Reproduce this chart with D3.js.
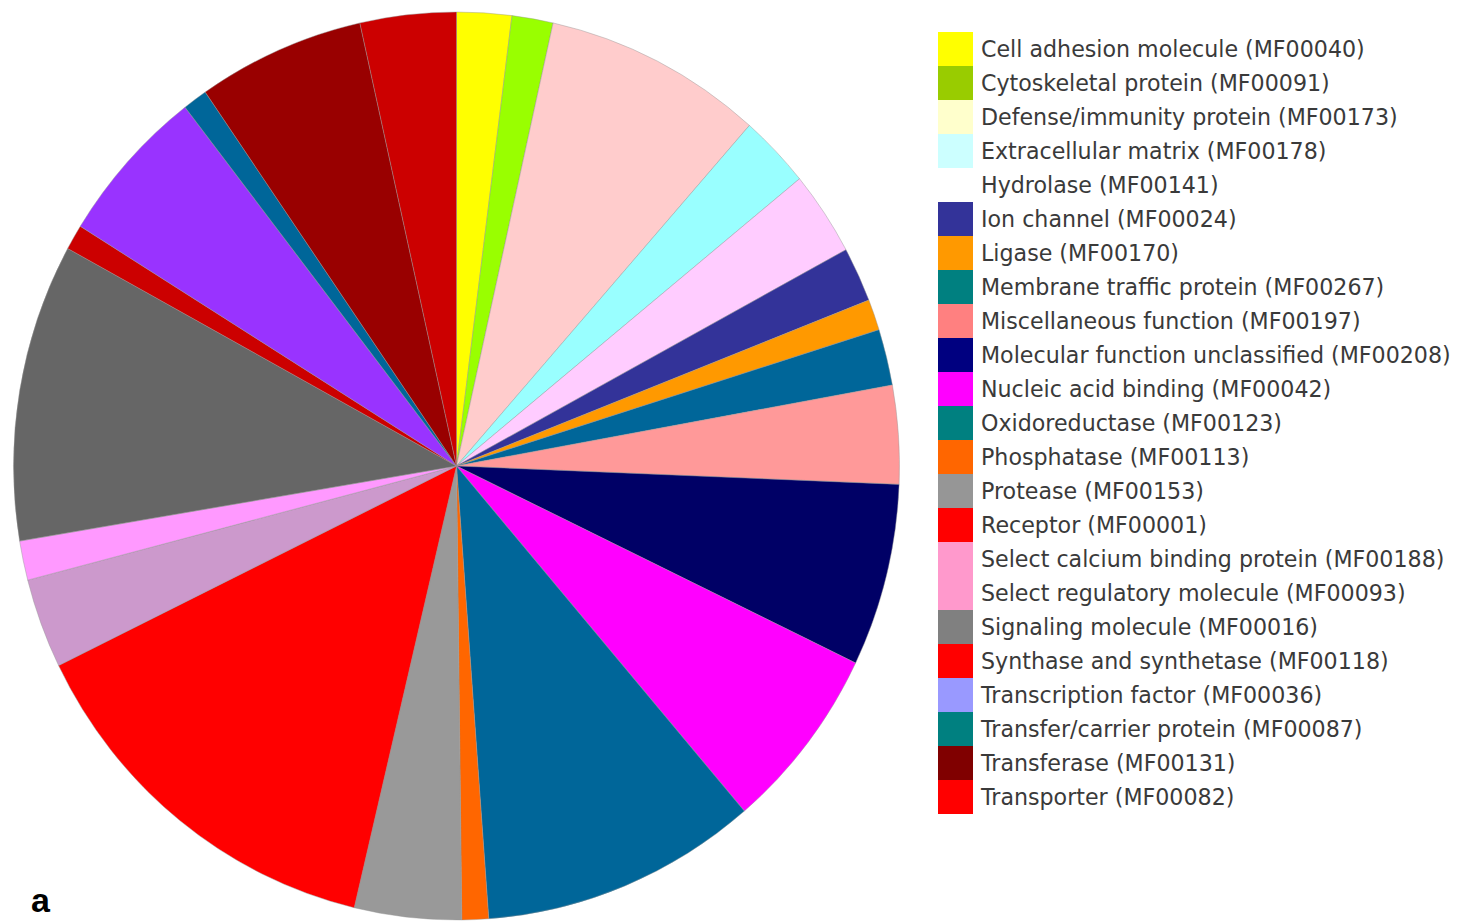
<!DOCTYPE html>
<html>
<head>
<meta charset="utf-8">
<script src="https://cdn.jsdelivr.net/npm/d3@7/dist/d3.min.js"></script>
<style>
  html, body { margin: 0; padding: 0; background: #ffffff; }
  svg { display: block; }
</style>
</head>
<body>
<svg id="chart" width="1457" height="921"></svg>
<script>
// Categories (PANTHER molecular function)
const categories = [
  "Cell adhesion molecule (MF00040)",
  "Cytoskeletal protein (MF00091)",
  "Defense/immunity protein (MF00173)",
  "Extracellular matrix (MF00178)",
  "Hydrolase (MF00141)",
  "Ion channel (MF00024)",
  "Ligase (MF00170)",
  "Membrane traffic protein (MF00267)",
  "Miscellaneous function (MF00197)",
  "Molecular function unclassified (MF00208)",
  "Nucleic acid binding (MF00042)",
  "Oxidoreductase (MF00123)",
  "Phosphatase (MF00113)",
  "Protease (MF00153)",
  "Receptor (MF00001)",
  "Select calcium binding protein (MF00188)",
  "Select regulatory molecule (MF00093)",
  "Signaling molecule (MF00016)",
  "Synthase and synthetase (MF00118)",
  "Transcription factor (MF00036)",
  "Transfer/carrier protein (MF00087)",
  "Transferase (MF00131)",
  "Transporter (MF00082)"
];

// Estimated share of each slice (percent of total)
const values = [
  2.0, 1.5, 8.0, 2.6, 3.0, 1.95, 1.1, 2.0, 3.5, 6.5, 6.6, 10.1,
  0.97, 3.9, 14.05, 3.2, 1.4, 10.6, 0.9, 5.65, 0.9, 6.1, 3.5
];

// Colours used for the pie slices
const sliceColors = [
  "#ffff00", "#99ff00", "#ffcccc", "#99ffff", "#ffccff", "#333399",
  "#ff9900", "#006699", "#ff9999", "#000066", "#ff00ff", "#006699",
  "#ff6600", "#999999", "#ff0000", "#cc99cc", "#ff99ff", "#666666",
  "#cc0000", "#9933ff", "#006699", "#990000", "#cc0000"
];

// Colours used for the legend swatches
const legendColors = [
  "#ffff00", "#99cc00", "#ffffcc", "#ccffff", "#ffffff", "#333399",
  "#ff9900", "#008080", "#ff8080", "#000080", "#ff00ff", "#008080",
  "#ff6600", "#969696", "#ff0000", "#ff99cc", "#ff99cc", "#808080",
  "#ff0000", "#9999ff", "#008080", "#800000", "#ff0000"
];

const panelLabel = "a";

const data = categories.map((c, i) => ({
  name: c, value: values[i], slice: sliceColors[i], legend: legendColors[i]
}));

const svg = d3.select("#chart");

// Pie geometry (the reference pie is slightly stretched vertically)
const cx = 456.5, cy = 466, rx = 443, ry = 454;

const pie = d3.pie().sort(null).value(d => d.value).startAngle(0).endAngle(2 * Math.PI);
const arc = d3.arc().innerRadius(0).outerRadius(rx);

const g = svg.append("g")
  .attr("transform", `translate(${cx},${cy}) scale(1,${ry / rx})`);

g.selectAll("path.slice")
  .data(pie(data))
  .join("path")
  .attr("class", "slice")
  .attr("d", arc)
  .attr("fill", d => d.data.slice)
  .attr("stroke", "rgba(150,150,150,0.55)")
  .attr("stroke-width", 0.8)
  .attr("vector-effect", "non-scaling-stroke");

// Legend
const lgX = 938, lgY = 32, sw = 35, rowH = 34;
const legend = svg.append("g").attr("class", "legend");
const rows = legend.selectAll("g.row")
  .data(data)
  .join("g")
  .attr("class", "row")
  .attr("transform", (d, i) => `translate(${lgX},${lgY + i * rowH})`);

rows.append("rect")
  .attr("x", 0).attr("y", 0)
  .attr("width", sw).attr("height", rowH)
  .attr("fill", d => d.legend);

const texts = rows.append("text")
  .attr("x", 43)
  .attr("y", 24.5)
  .attr("font-family", "Verdana, 'DejaVu Sans', sans-serif")
  .attr("font-size", 20)
  .attr("fill", "#3a3a3a")
  .text(d => d.name);

// Fit legend text so the longest label ends near the reference's right edge (~1452px)
let maxW = 0;
texts.each(function () { maxW = Math.max(maxW, this.getComputedTextLength()); });
const fs = 20 * 470 / maxW;
texts.attr("font-size", fs);

// Panel label
svg.append("text")
  .attr("x", 31)
  .attr("y", 912)
  .attr("font-family", "Arial, 'Liberation Sans', sans-serif")
  .attr("font-weight", "bold")
  .attr("font-size", 34)
  .attr("fill", "#000")
  .text(panelLabel);
</script>
</body>
</html>
